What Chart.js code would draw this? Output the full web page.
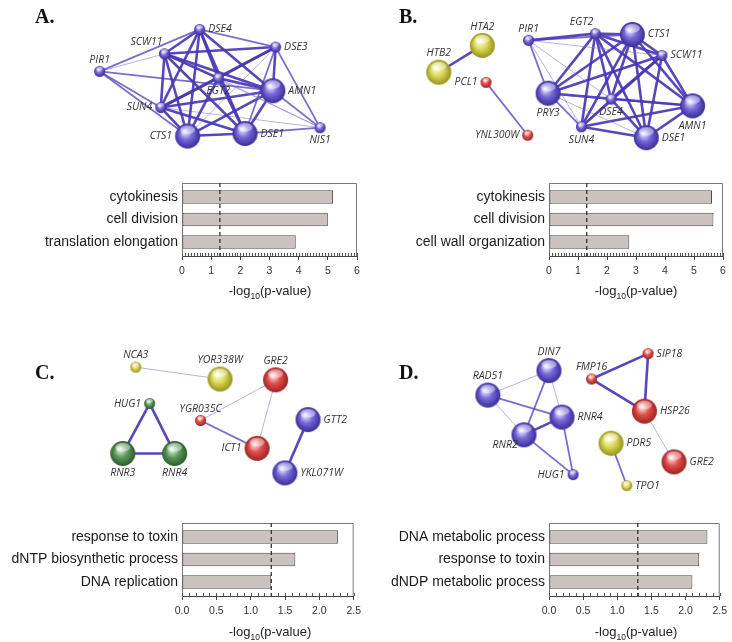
<!DOCTYPE html>
<html>
<head>
<meta charset="utf-8">
<script src="https://cdn.jsdelivr.net/npm/chart.js@4.4.1/dist/chart.umd.min.js"></script>
<style>
  body { margin: 0; background: #fff; }
  #wrap { position: relative; width: 732px; height: 642px; overflow: hidden; background: #fff; }
  canvas { position: absolute; }
  .tag { position: absolute; font: bold 20px/20px "Liberation Serif", "DejaVu Serif", serif; color: #111; }
  .xt { position: absolute; font: 13px/15px "Liberation Sans", Arial, sans-serif; color: #222; transform: translateX(-50%); white-space: nowrap; }
  .xt sub { font-size: 8.5px; line-height: 0; }
</style>
</head>
<body>
<div id="wrap">
  <canvas id="netA" width="366" height="168" style="left:0;top:0"></canvas>
  <canvas id="netB" width="366" height="168" style="left:366px;top:0"></canvas>
  <canvas id="netC" width="366" height="175" style="left:0;top:330px"></canvas>
  <canvas id="netD" width="366" height="175" style="left:366px;top:330px"></canvas>
  <canvas id="barA" width="366" height="130" style="left:0;top:175px"></canvas>
  <canvas id="barB" width="366" height="130" style="left:366px;top:175px"></canvas>
  <canvas id="barC" width="366" height="127" style="left:0;top:515px"></canvas>
  <canvas id="barD" width="366" height="127" style="left:366px;top:515px"></canvas>

  <div class="tag" style="left:35px;top:6px">A.</div>
  <div class="tag" style="left:399px;top:6px">B.</div>
  <div class="tag" style="left:35px;top:362px">C.</div>
  <div class="tag" style="left:399px;top:362px">D.</div>

  <div class="xt" style="left:270px;top:283px">-log<sub>10</sub>(p-value)</div>
  <div class="xt" style="left:636px;top:283px">-log<sub>10</sub>(p-value)</div>
  <div class="xt" style="left:270px;top:624px">-log<sub>10</sub>(p-value)</div>
  <div class="xt" style="left:636px;top:624px">-log<sub>10</sub>(p-value)</div>
</div>
<script>
// ---- enrichment bars ----
const SIG_LINE = 1.3; // -log10(0.05)

const catsA = ['cytokinesis', 'cell division', 'translation elongation'];
const valsA = [5.18, 5.0, 3.9];
const catsB = ['cytokinesis', 'cell division', 'cell wall organization'];
const valsB = [5.62, 5.67, 2.77];
const catsC = ['response to toxin', 'dNTP biosynthetic process', 'DNA replication'];
const valsC = [2.27, 1.65, 1.30];
const catsD = ['DNA metabolic process', 'response to toxin', 'dNDP metabolic process'];
const valsD = [2.32, 2.20, 2.10];

// ---- networks: node names, layout position, has-structure flag, cluster, label side ----
const nodesA = ['DSE4', 'SCW11', 'DSE3', 'PIR1', 'EGT2', 'AMN1', 'SUN4', 'CTS1', 'DSE1', 'NIS1'];
const xA = [201, 163, 283, 93, 221, 280, 159, 188, 250, 331];
const yA = [19, 48, 40, 69, 77, 92, 112, 146, 143, 136];
const bigA = [0, 0, 0, 0, 0, 1, 0, 1, 1, 0];
const grpA = ['b', 'b', 'b', 'b', 'b', 'b', 'b', 'b', 'b', 'b'];
const sideA = ['e', 'nw', 'e', 'n', 's', 'e', 'w', 'w', 'e', 's'];
const edgesA = [
  [0, 1, 3], [0, 2, 2], [0, 3, 2], [0, 4, 3], [0, 5, 3], [0, 6, 3], [0, 7, 3], [0, 8, 3],
  [1, 2, 3], [1, 3, 1], [1, 4, 3], [1, 5, 3], [1, 6, 3], [1, 7, 3], [1, 8, 3], [1, 9, 1],
  [2, 4, 3], [2, 5, 3], [2, 6, 3], [2, 7, 1], [2, 8, 2], [2, 9, 2],
  [3, 5, 2], [3, 6, 2], [3, 7, 2],
  [4, 5, 3], [4, 6, 3], [4, 7, 3], [4, 8, 3], [4, 9, 1],
  [5, 6, 3], [5, 7, 3], [5, 8, 3], [5, 9, 2],
  [6, 7, 3], [6, 8, 3], [6, 9, 1],
  [7, 8, 3], [8, 9, 2]
];

const nodesB = ['HTA2', 'HTB2', 'PCL1', 'YNL300W', 'PIR1', 'EGT2', 'CTS1', 'SCW11', 'PRY3', 'DSE4', 'AMN1', 'SUN4', 'DSE1'];
const xB = [111, 64, 115, 160, 161, 233, 273, 305, 182, 250, 338, 218, 288];
const yB = [38, 70, 82, 145, 32, 24, 25, 50, 95, 102, 110, 135, 148];
const bigB = [1, 1, 0, 0, 0, 0, 1, 0, 1, 0, 1, 0, 1];
const grpB = ['y', 'y', 'r', 'r', 'b', 'b', 'b', 'b', 'b', 'b', 'b', 'b', 'b'];
const sideB = ['n', 'n', 'w', 'w', 'n', 'nw', 'e', 'e', 's', 's', 's', 's', 'e'];
const edgesB = [
  [0, 1, 3], [2, 3, 2],
  [4, 5, 3], [4, 6, 2], [4, 7, 1], [4, 8, 2], [4, 9, 1], [4, 11, 1],
  [5, 6, 3], [5, 7, 3], [5, 8, 3], [5, 9, 3], [5, 10, 3], [5, 11, 3], [5, 12, 3],
  [6, 7, 3], [6, 8, 3], [6, 9, 3], [6, 10, 3], [6, 11, 3], [6, 12, 3],
  [7, 8, 3], [7, 9, 3], [7, 10, 3], [7, 11, 3], [7, 12, 3],
  [8, 9, 2], [8, 10, 3], [8, 11, 2], [8, 12, 1],
  [9, 10, 2], [9, 11, 2], [9, 12, 3],
  [10, 11, 3], [10, 12, 3], [11, 12, 3]
];

const nodesC = ['NCA3', 'YOR338W', 'GRE2', 'HUG1', 'YGR035C', 'GTT2', 'ICT1', 'RNR3', 'RNR4', 'YKL071W'];
const xC = [132, 223, 283, 147, 202, 318, 263, 118, 174, 293];
const yC = [28, 42, 43, 71, 91, 90, 124, 130, 130, 153];
const bigC = [0, 1, 1, 0, 0, 1, 1, 1, 1, 1];
const grpC = ['y', 'y', 'r', 'g', 'r', 'b', 'r', 'g', 'g', 'b'];
const sideC = ['n', 'n', 'n', 'w', 'n', 'e', 'w', 's', 's', 'e'];
const edgesC = [[0, 1, 1], [2, 4, 1], [2, 6, 1], [4, 6, 2], [3, 7, 3], [3, 8, 3], [7, 8, 3], [5, 9, 3]];

const nodesD = ['DIN7', 'SIP18', 'FMP16', 'RAD51', 'HSP26', 'RNR4', 'RNR2', 'PDR5', 'GRE2', 'HUG1', 'TPO1'];
const xD = [183, 290, 229, 117, 286, 197, 156, 250, 318, 209, 267];
const yD = [32, 12, 42, 61, 80, 87, 108, 118, 140, 155, 168];
const bigD = [1, 0, 0, 1, 1, 1, 1, 1, 1, 0, 0];
const grpD = ['b', 'r', 'r', 'b', 'r', 'b', 'b', 'y', 'r', 'b', 'y'];
const sideD = ['n', 'e', 'n', 'n', 'e', 'e', 'sw', 'e', 'e', 'w', 'e'];
const edgesD = [
  [0, 3, 1], [0, 6, 2], [0, 5, 1], [3, 5, 2], [3, 6, 1], [6, 5, 3], [6, 9, 2], [5, 9, 2],
  [2, 1, 3], [2, 4, 3], [1, 4, 3], [4, 8, 1], [7, 10, 2]
];

// sphere colours per cluster
const PAL = {
  b: ['#e4e0ff', '#7568d8', '#3a2d98'],
  y: ['#fdfde0', '#dcda58', '#97921c'],
  r: ['#ffdcdc', '#e0504c', '#9c2220'],
  g: ['#dcf0dc', '#5f9c5c', '#2c5a2b']
};
const EDGE = {
  1: { color: 'rgba(125,115,210,0.55)', width: 1 },
  2: { color: 'rgba(85,75,190,0.8)', width: 1.8 },
  3: { color: 'rgba(70,58,180,0.92)', width: 2.6 }
};

function sphere(pal, r) {
  const s = Math.ceil(r * 2 + 2);
  const c = document.createElement('canvas');
  c.width = s; c.height = s;
  const g = c.getContext('2d');
  const cx = s / 2, cy = s / 2;
  const grad = g.createRadialGradient(cx - r * 0.25, cy - r * 0.35, r * 0.1, cx, cy, r);
  grad.addColorStop(0, pal[0]);
  grad.addColorStop(0.45, pal[1]);
  grad.addColorStop(1, pal[2]);
  g.beginPath();
  g.arc(cx, cy, r, 0, Math.PI * 2);
  g.fillStyle = grad;
  g.fill();
  // glossy cap
  g.beginPath();
  g.ellipse(cx, cy - r * 0.5, r * 0.6, r * 0.35, 0, 0, Math.PI * 2);
  g.fillStyle = 'rgba(255,255,255,0.45)';
  g.fill();
  return c;
}

const nodeLabels = {
  id: 'nodeLabels',
  afterDatasetsDraw(chart, args, opts) {
    const ctx = chart.ctx;
    const meta = chart.getDatasetMeta(0);
    ctx.save();
    ctx.font = 'italic 10.5px "Open Sans", "DejaVu Sans", sans-serif';
    ctx.fillStyle = '#333';
    meta.data.forEach((p, i) => {
      const r = opts.radii[i];
      let x = p.x, y = p.y;
      switch (opts.sides[i]) {
        case 'e': ctx.textAlign = 'left'; ctx.textBaseline = 'middle'; x += r + 3; break;
        case 'w': ctx.textAlign = 'right'; ctx.textBaseline = 'middle'; x -= r + 3; break;
        case 'n': ctx.textAlign = 'center'; ctx.textBaseline = 'bottom'; y -= r + 1; break;
        case 's': ctx.textAlign = 'center'; ctx.textBaseline = 'top'; y += r + 2; break;
        case 'nw': ctx.textAlign = 'right'; ctx.textBaseline = 'bottom'; x -= 2; y -= r + 1; break;
        case 'sw': ctx.textAlign = 'right'; ctx.textBaseline = 'top'; x -= r * 0.5; y += r * 0.4; break;
      }
      ctx.fillText(opts.names[i], x, y);
    });
    ctx.restore();
  }
};

function network(id, names, xs, ys, big, grp, sides, edges) {
  const el = document.getElementById(id);
  const pts = names.map((n, i) => ({ x: xs[i], y: ys[i] }));
  const radii = big.map(b => (b ? 12.5 : 5.5));
  const datasets = [{
    data: pts,
    pointStyle: names.map((n, i) => sphere(PAL[grp[i]], radii[i])),
    pointRadius: radii,
    order: 0,
    clip: false
  }];
  edges.forEach(([a, b, w]) => {
    datasets.push({
      data: [pts[a], pts[b]],
      showLine: true,
      borderColor: EDGE[w].color,
      borderWidth: EDGE[w].width,
      pointRadius: 0,
      order: 1,
      clip: false
    });
  });
  new Chart(el, {
    type: 'scatter',
    data: { datasets },
    options: {
      responsive: false,
      animation: false,
      events: [],
      layout: { padding: 0 },
      plugins: {
        legend: { display: false },
        tooltip: { enabled: false },
        nodeLabels: { names, sides, radii }
      },
      scales: {
        x: { type: 'linear', display: false, min: 0, max: el.width },
        y: { type: 'linear', display: false, min: 0, max: el.height, reverse: true }
      }
    },
    plugins: [nodeLabels]
  });
}

const frame = {
  id: 'frame',
  afterDatasetsDraw(chart, args, opts) {
    const ctx = chart.ctx;
    const a = chart.chartArea;
    const xs = chart.scales.x;
    ctx.save();
    // top and right sides of the box
    ctx.strokeStyle = '#777';
    ctx.lineWidth = 1;
    ctx.beginPath();
    ctx.moveTo(a.left, a.top + 0.5);
    ctx.lineTo(a.right - 0.5, a.top + 0.5);
    ctx.lineTo(a.right - 0.5, a.bottom);
    ctx.stroke();
    // minor ticks, pointing inward
    ctx.strokeStyle = '#555';
    ctx.beginPath();
    for (let v = 0; v <= xs.max + 1e-9; v += opts.minor) {
      const px = Math.round(xs.getPixelForValue(v)) + 0.5;
      ctx.moveTo(px, a.bottom);
      ctx.lineTo(px, a.bottom - 3);
    }
    ctx.stroke();
    // significance threshold
    const tx = xs.getPixelForValue(opts.threshold);
    ctx.strokeStyle = '#333';
    ctx.lineWidth = 1.3;
    ctx.setLineDash([4, 3]);
    ctx.beginPath();
    ctx.moveTo(tx, a.top);
    ctx.lineTo(tx, a.bottom);
    ctx.stroke();
    ctx.restore();
  }
};

function bars(id, cats, vals, max, step, decimals, leftW) {
  const el = document.getElementById(id);
  const top = 8;
  const xH = el.height - top - 73;
  new Chart(el, {
    type: 'bar',
    data: {
      datasets: [{
        data: vals.map((v, i) => ({ x: v, y: i })),
        backgroundColor: '#c9c2bf',
        borderColor: '#4a4a4a',
        borderWidth: 1,
        borderSkipped: false,
        barPercentage: 0.6,
        categoryPercentage: 1
      }]
    },
    options: {
      indexAxis: 'y',
      responsive: false,
      animation: false,
      events: [],
      layout: { padding: { top, right: el.width - 357, left: 0, bottom: 0 } },
      plugins: {
        legend: { display: false },
        tooltip: { enabled: false },
        frame: { threshold: SIG_LINE, minor: 0.1 }
      },
      scales: {
        x: {
          type: 'linear',
          min: 0,
          max,
          ticks: {
            stepSize: step,
            padding: 5,
            color: '#333',
            font: { family: '"Liberation Sans", Arial, sans-serif', size: 10.5 },
            callback: v => v.toFixed(decimals)
          },
          grid: { drawOnChartArea: false, tickLength: 4, color: '#444' },
          border: { color: '#444' },
          afterFit(s) { s.height = xH; }
        },
        y: {
          type: 'linear',
          reverse: true,
          offset: false,
          min: -0.62,
          max: cats.length - 0.38,
          ticks: {
            stepSize: 1,
            autoSkip: false,
            color: '#1a1a1a',
            padding: 4,
            font: { family: '"Liberation Sans", Arial, sans-serif', size: 14 },
            callback: v => (Number.isInteger(v) ? cats[v] : null)
          },
          grid: { display: false, drawTicks: false, offset: false },
          border: { color: '#777' },
          afterFit(s) { s.width = leftW; s.paddingTop = 0; s.paddingBottom = 0; }
        }
      }
    },
    plugins: [frame]
  });
}

network('netA', nodesA, xA, yA, bigA, grpA, sideA, edgesA);
network('netB', nodesB, xB, yB, bigB, grpB, sideB, edgesB);
network('netC', nodesC, xC, yC, bigC, grpC, sideC, edgesC);
network('netD', nodesD, xD, yD, bigD, grpD, sideD, edgesD);

bars('barA', catsA, valsA, 6, 1, 0, 182);
bars('barB', catsB, valsB, 6, 1, 0, 183);
bars('barC', catsC, valsC, 2.5, 0.5, 1, 182);
bars('barD', catsD, valsD, 2.5, 0.5, 1, 183);
</script>
</body>
</html>
